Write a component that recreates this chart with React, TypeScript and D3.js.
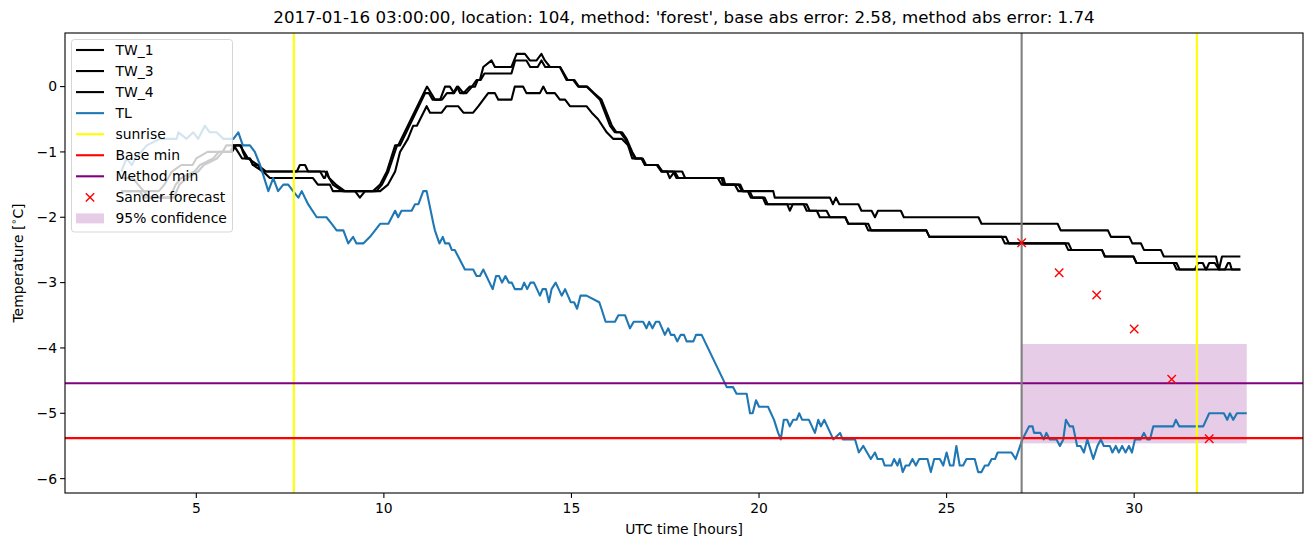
import React from "react";
import * as d3 from "d3";

// ---------------- data ----------------
const TITLE =
  "2017-01-16 03:00:00, location: 104, method: 'forest', base abs error: 2.58, method abs error: 1.74";

const TW_1: [number, number][] = [
  [3.0,-1.6],[3.5,-1.6],[3.6,-1.7],[4.3,-1.7],[4.45,-1.5],[4.6,-1.4],[4.95,-1.3],[5.1,-1.2],[5.45,-1.1],[5.6,-1.0],[5.9,-1.0],[6.0,-0.9],[6.11,-1.0],[6.22,-1.1],[6.43,-1.1],[6.51,-1.2],[6.78,-1.3],[6.96,-1.4],[8.11,-1.4],[8.24,-1.5],[8.56,-1.5],[8.64,-1.6],[9.71,-1.6],[9.9,-1.5],[10.08,-1.3],[10.3,-0.9],[10.38,-0.9],[11.15,0.0],[11.36,-0.2],[11.5,-0.2],[11.63,0.0],[11.76,0.0],[11.87,-0.1],[11.98,0.0],[12.12,-0.1],[12.29,0.0],[12.43,0.0],[12.5,0.1],[12.56,0.1],[12.65,0.3],[12.87,0.4],[12.96,0.3],[13.4,0.3],[13.54,0.5],[13.76,0.5],[13.89,0.4],[14.07,0.4],[14.2,0.5],[14.29,0.4],[14.43,0.3],[14.69,0.3],[14.87,0.1],[15.05,0.1],[15.18,0.0],[15.4,0.0],[15.58,-0.1],[15.76,-0.2],[16.03,-0.6],[16.16,-0.7],[16.3,-0.7],[16.43,-0.8],[16.6,-1.0],[16.69,-1.1],[16.87,-1.1],[16.96,-1.2],[17.27,-1.2],[17.4,-1.3],[17.71,-1.3],[17.8,-1.4],[18.9,-1.4],[19.0,-1.5],[19.35,-1.5],[19.45,-1.6],[19.7,-1.6],[19.78,-1.7],[20.1,-1.7],[20.18,-1.8],[20.75,-1.8],[20.82,-1.9],[20.9,-1.8],[21.19,-1.8],[21.27,-1.9],[21.54,-1.9],[21.62,-2.0],[22.3,-2.0],[22.38,-2.1],[22.83,-2.1],[22.91,-2.2],[24.46,-2.2],[24.54,-2.3],[26.47,-2.3],[26.55,-2.4],[28.16,-2.4],[28.24,-2.5],[29.14,-2.5],[29.22,-2.6],[29.98,-2.6],[30.06,-2.7],[31.05,-2.7],[31.13,-2.8],[31.62,-2.8],[31.7,-2.7],[31.83,-2.7],[31.91,-2.8],[32.83,-2.8],
];

const TW_3: [number, number][] = [
  [3.0,-1.6],[3.6,-1.6],[3.75,-1.7],[4.4,-1.7],[4.55,-1.5],[4.75,-1.4],[5.05,-1.3],[5.2,-1.2],[5.55,-1.1],[5.7,-1.0],[5.95,-1.0],[6.05,-0.9],[6.16,-0.9],[6.27,-1.0],[6.38,-1.1],[6.64,-1.2],[6.86,-1.3],[8.3,-1.3],[8.4,-1.4],[8.43,-1.4],[8.48,-1.3],[8.54,-1.4],[8.72,-1.5],[8.96,-1.6],[9.23,-1.6],[9.36,-1.7],[9.5,-1.6],[9.8,-1.6],[9.95,-1.5],[10.12,-1.3],[10.35,-0.9],[10.43,-0.9],[11.1,-0.1],[11.2,-0.1],[11.3,-0.2],[11.55,-0.2],[11.68,-0.1],[11.85,-0.1],[11.95,0.0],[12.03,-0.1],[12.2,-0.1],[12.35,0.0],[12.47,0.1],[12.58,0.1],[12.68,0.2],[13.4,0.2],[13.5,0.4],[13.8,0.4],[13.9,0.3],[14.1,0.3],[14.2,0.4],[14.3,0.3],[14.7,0.3],[14.9,0.1],[15.08,0.1],[15.2,0.0],[15.42,0.0],[15.6,-0.1],[15.8,-0.2],[16.08,-0.6],[16.2,-0.7],[16.35,-0.7],[16.47,-0.8],[16.62,-1.0],[16.72,-1.1],[16.9,-1.1],[16.99,-1.2],[17.3,-1.2],[17.43,-1.3],[17.55,-1.3],[17.62,-1.4],[17.75,-1.3],[17.95,-1.3],[18.03,-1.4],[19.05,-1.4],[19.1,-1.5],[19.45,-1.5],[19.55,-1.6],[19.75,-1.6],[19.83,-1.7],[20.15,-1.7],[20.23,-1.8],[21.27,-1.8],[21.35,-1.9],[21.8,-1.9],[21.89,-2.0],[22.3,-2.0],[22.38,-2.1],[22.91,-2.1],[22.99,-2.2],[24.46,-2.2],[24.54,-2.3],[26.58,-2.3],[26.66,-2.4],[28.25,-2.4],[28.33,-2.5],[29.14,-2.5],[29.22,-2.6],[29.98,-2.6],[30.06,-2.7],[31.13,-2.7],[31.21,-2.8],[31.92,-2.8],[32.0,-2.7],[32.15,-2.7],[32.26,-2.8],[32.42,-2.8],[32.5,-2.7],[32.55,-2.7],[32.6,-2.8],[32.83,-2.8],
];

const TW_4: [number, number][] = [
  [3.0,-1.4],[3.3,-1.4],[3.45,-1.5],[3.6,-1.6],[4.0,-1.6],[4.15,-1.5],[4.35,-1.3],[4.6,-1.2],[4.9,-1.2],[5.0,-1.1],[5.3,-1.0],[5.7,-1.0],[5.8,-0.9],[6.2,-0.9],[6.24,-1.0],[6.32,-1.1],[6.43,-1.1],[6.51,-1.2],[6.64,-1.2],[6.75,-1.3],[7.68,-1.3],[7.76,-1.2],[7.9,-1.2],[7.98,-1.3],[8.43,-1.3],[8.54,-1.4],[8.64,-1.5],[8.9,-1.6],[9.9,-1.6],[10.11,-1.5],[10.3,-1.3],[10.43,-1.0],[10.64,-0.8],[10.78,-0.6],[10.88,-0.6],[11.14,-0.3],[11.23,-0.4],[11.54,-0.4],[11.67,-0.3],[11.98,-0.3],[12.12,-0.4],[12.38,-0.4],[12.52,-0.3],[12.65,-0.2],[12.78,-0.1],[12.96,-0.1],[13.05,-0.2],[13.4,-0.2],[13.49,0.0],[13.71,0.0],[13.8,-0.1],[14.16,-0.1],[14.25,0.0],[14.34,-0.1],[14.56,-0.1],[14.69,-0.2],[14.83,-0.2],[14.96,-0.3],[15.4,-0.3],[15.54,-0.4],[15.71,-0.5],[15.94,-0.7],[16.11,-0.8],[16.34,-0.8],[16.51,-0.9],[16.62,-1.1],[16.87,-1.1],[16.96,-1.2],[17.3,-1.2],[17.4,-1.3],[17.75,-1.3],[17.85,-1.4],[19.0,-1.4],[19.05,-1.5],[19.5,-1.5],[19.58,-1.6],[20.38,-1.6],[20.42,-1.7],[21.89,-1.7],[21.97,-1.8],[22.05,-1.7],[22.14,-1.8],[22.65,-1.8],[22.73,-1.9],[23.0,-1.9],[23.09,-2.0],[23.17,-1.9],[23.78,-1.9],[23.86,-2.0],[25.85,-2.0],[25.93,-2.1],[27.96,-2.1],[28.04,-2.2],[29.3,-2.2],[29.38,-2.3],[29.87,-2.3],[29.95,-2.4],[30.18,-2.4],[30.26,-2.5],[30.71,-2.5],[30.79,-2.6],[32.18,-2.6],[32.26,-2.8],[32.34,-2.6],[32.83,-2.6],
];

const TL: [number, number][] = [
  [3.0,-1.3],[3.14,-1.1],[3.28,-1.2],[3.37,-1.1],[3.68,-0.9],[4.03,-0.8],[4.48,-0.8],[4.52,-0.7],[4.74,-0.8],[4.92,-0.7],[5.05,-0.8],[5.23,-0.6],[5.36,-0.7],[5.54,-0.7],[5.72,-0.8],[5.99,-0.8],[6.12,-0.7],[6.24,-0.9],[6.43,-0.9],[6.56,-1.0],[6.7,-1.2],[6.92,-1.6],[7.05,-1.4],[7.18,-1.6],[7.32,-1.5],[7.45,-1.5],[7.58,-1.6],[7.72,-1.7],[7.81,-1.6],[7.98,-1.8],[8.21,-2.0],[8.47,-2.0],[8.61,-2.1],[8.74,-2.2],[8.92,-2.2],[9.05,-2.4],[9.18,-2.3],[9.27,-2.4],[9.45,-2.4],[9.63,-2.3],[9.9,-2.1],[10.12,-2.1],[10.3,-1.9],[10.38,-2.0],[10.47,-1.9],[10.74,-1.9],[10.83,-1.8],[10.92,-1.8],[11.05,-1.6],[11.14,-1.6],[11.32,-2.1],[11.36,-2.2],[11.48,-2.4],[11.57,-2.3],[11.63,-2.4],[11.74,-2.4],[11.81,-2.5],[11.89,-2.5],[12.16,-2.8],[12.38,-2.8],[12.47,-2.9],[12.56,-2.9],[12.65,-2.8],[12.9,-3.1],[12.99,-2.9],[13.07,-2.9],[13.15,-3.0],[13.24,-2.9],[13.33,-3.0],[13.41,-3.0],[13.49,-3.1],[13.67,-3.1],[13.74,-3.0],[13.82,-3.1],[13.91,-3.0],[14.0,-3.0],[14.16,-3.2],[14.23,-3.1],[14.32,-3.1],[14.4,-3.3],[14.47,-3.1],[14.58,-3.0],[14.74,-3.2],[14.83,-3.1],[14.98,-3.3],[15.07,-3.3],[15.15,-3.4],[15.24,-3.2],[15.4,-3.2],[15.74,-3.3],[15.8,-3.4],[15.91,-3.6],[16.16,-3.6],[16.25,-3.5],[16.43,-3.5],[16.56,-3.7],[16.66,-3.6],[16.91,-3.6],[17.0,-3.7],[17.07,-3.6],[17.16,-3.7],[17.25,-3.6],[17.34,-3.6],[17.49,-3.8],[17.58,-3.7],[17.65,-3.8],[17.74,-3.8],[17.82,-3.9],[17.91,-3.8],[18.0,-3.8],[18.07,-3.9],[18.25,-3.9],[18.32,-3.8],[18.47,-3.8],[19.14,-4.6],[19.31,-4.6],[19.4,-4.7],[19.67,-4.7],[19.76,-5.0],[19.83,-5.0],[19.92,-4.8],[20.0,-4.9],[20.24,-4.9],[20.4,-5.1],[20.51,-5.3],[20.58,-5.4],[20.66,-5.1],[20.75,-5.1],[20.82,-5.2],[20.91,-5.1],[21.0,-5.1],[21.07,-5.0],[21.15,-5.1],[21.33,-5.1],[21.49,-5.3],[21.58,-5.1],[21.65,-5.2],[21.74,-5.1],[21.98,-5.4],[22.16,-5.3],[22.23,-5.4],[22.56,-5.4],[22.66,-5.6],[22.78,-5.5],[22.98,-5.7],[23.09,-5.6],[23.16,-5.7],[23.29,-5.7],[23.35,-5.8],[23.53,-5.8],[23.6,-5.7],[23.69,-5.8],[23.75,-5.7],[23.83,-5.9],[23.91,-5.8],[24.0,-5.8],[24.09,-5.7],[24.18,-5.8],[24.27,-5.7],[24.49,-5.7],[24.58,-5.9],[24.67,-5.7],[24.82,-5.7],[24.91,-5.8],[25.0,-5.6],[25.09,-5.8],[25.18,-5.8],[25.26,-5.5],[25.35,-5.8],[25.44,-5.8],[25.53,-5.7],[25.75,-5.7],[25.84,-5.9],[25.93,-5.9],[26.02,-5.8],[26.11,-5.8],[26.2,-5.7],[26.29,-5.7],[26.36,-5.6],[26.73,-5.6],[26.84,-5.7],[27.02,-5.4],[27.2,-5.2],[27.29,-5.2],[27.33,-5.3],[27.5,-5.3],[27.59,-5.4],[27.66,-5.3],[27.75,-5.4],[27.93,-5.4],[28.02,-5.5],[28.11,-5.4],[28.18,-5.1],[28.28,-5.2],[28.37,-5.2],[28.48,-5.5],[28.57,-5.5],[28.66,-5.6],[28.75,-5.4],[28.91,-5.7],[29.02,-5.5],[29.11,-5.4],[29.19,-5.5],[29.35,-5.5],[29.42,-5.6],[29.51,-5.5],[29.59,-5.6],[29.68,-5.5],[29.77,-5.6],[29.86,-5.5],[29.94,-5.6],[30.02,-5.4],[30.17,-5.4],[30.26,-5.3],[30.35,-5.4],[30.42,-5.4],[30.51,-5.2],[31.04,-5.2],[31.11,-5.1],[31.2,-5.2],[31.84,-5.2],[32.0,-5.0],[32.39,-5.0],[32.48,-5.1],[32.55,-5.0],[32.64,-5.1],[32.74,-5.0],[33.0,-5.0],
];

const SUNRISE_HOURS = [7.6, 31.67];
const FORECAST_TIME = 27.0;
const BASE_MIN = -5.38;
const METHOD_MIN = -4.54;
const SANDER_HOURS = [27, 28, 29, 30, 31, 32];
const SANDER_TEMPS = [-2.39, -2.85, -3.19, -3.71, -4.48, -5.39];
const CONF_HOURS = [27.0, 33.0];
const CONF_LOW = -5.46;
const CONF_HIGH = -3.94;

const X_TICKS = [5, 10, 15, 20, 25, 30];
const Y_TICKS = [-6, -5, -4, -3, -2, -1, 0];

const LEGEND_LABELS = ["TW_1", "TW_3", "TW_4", "TL", "sunrise", "Base min", "Method min", "Sander forecast", "95% confidence"];

// ---------------- layout ----------------
const W = 1313;
const H = 547;
const L = 65, R = 1303, T = 33, B = 493;
const FONT = "DejaVu Sans, sans-serif";
const FS = 13.9;

function padded(lo: number, hi: number): [number, number] {
  const p = (hi - lo) * 0.05;
  return [lo - p, hi + p];
}

export default function App() {
  const allX = [...TW_1, ...TW_3, ...TW_4, ...TL].map((d) => d[0]).concat(CONF_HOURS, SANDER_HOURS);
  const allY = [...TW_1, ...TW_3, ...TW_4, ...TL].map((d) => d[1]).concat([CONF_LOW, CONF_HIGH], SANDER_TEMPS);
  const x = d3.scaleLinear().domain(padded(d3.min(allX)!, d3.max(allX)!)).range([L, R]);
  const y = d3.scaleLinear().domain(padded(d3.min(allY)!, d3.max(allY)!)).range([B, T]);

  const line = d3
    .line<[number, number]>()
    .x((d) => x(d[0]))
    .y((d) => y(d[1]));

  const series = [
    { data: TW_1, color: "#000000" },
    { data: TW_3, color: "#000000" },
    { data: TW_4, color: "#000000" },
    { data: TL, color: "#1f77b4" },
  ];

  const legendX = 71.5, legendY = 39.5, legendW = 161, legendH = 192.5;
  const rowY = (i: number) => 50 + i * 21.05;

  return (
    <div style={{ position: "absolute", left: 0, top: 0 }}>
      <svg width={W} height={H} style={{ display: "block", background: "#fff" }} fontFamily={FONT}>
        <defs>
          <clipPath id="plot">
            <rect x={L} y={T} width={R - L} height={B - T} />
          </clipPath>
        </defs>
        <rect x={0} y={0} width={W} height={H} fill="#fff" />
        <g clipPath="url(#plot)">
          {/* confidence band */}
          <rect
            x={x(CONF_HOURS[0])}
            y={y(CONF_HIGH)}
            width={x(CONF_HOURS[1]) - x(CONF_HOURS[0])}
            height={y(CONF_LOW) - y(CONF_HIGH)}
            fill="#800080"
            fillOpacity={0.2}
          />
          {series.map((s, i) => (
            <path key={i} d={line(s.data)!} fill="none" stroke={s.color} strokeWidth={2.1} strokeLinejoin="round" />
          ))}
          {SUNRISE_HOURS.map((h, i) => (
            <line key={i} x1={x(h)} x2={x(h)} y1={T} y2={B} stroke="#ffff00" strokeWidth={2.1} />
          ))}
          <line x1={L} x2={R} y1={y(BASE_MIN)} y2={y(BASE_MIN)} stroke="#ff0000" strokeWidth={2.1} />
          <line x1={L} x2={R} y1={y(METHOD_MIN)} y2={y(METHOD_MIN)} stroke="#800080" strokeWidth={2.1} />
          <line x1={x(FORECAST_TIME)} x2={x(FORECAST_TIME)} y1={T} y2={B} stroke="#808080" strokeWidth={2.1} />
          {SANDER_HOURS.map((h, i) => {
            const cx = x(h), cy = y(SANDER_TEMPS[i]);
            const r = 4.2;
            return (
              <path
                key={i}
                d={`M${cx - r},${cy - r}L${cx + r},${cy + r}M${cx - r},${cy + r}L${cx + r},${cy - r}`}
                stroke="#ff0000"
                strokeWidth={1.4}
              />
            );
          })}
        </g>

        {/* axes frame */}
        <rect x={L} y={T} width={R - L} height={B - T} fill="none" stroke="#000" strokeWidth={1.1} />

        {/* x ticks */}
        {X_TICKS.map((t) => (
          <g key={t} transform={`translate(${x(t)},${B})`}>
            <line y1={0} y2={4.9} stroke="#000" strokeWidth={1.1} />
            <text y={19.5} textAnchor="middle" fontSize={FS} fill="#000">
              {t}
            </text>
          </g>
        ))}
        {/* y ticks */}
        {Y_TICKS.map((t) => (
          <g key={t} transform={`translate(${L},${y(t)})`}>
            <line x1={0} x2={-4.9} stroke="#000" strokeWidth={1.1} />
            <text x={-8} dy="0.35em" textAnchor="end" fontSize={FS} fill="#000">
              {t < 0 ? `\u2212${Math.abs(t)}` : `${t}`}
            </text>
          </g>
        ))}

        {/* labels */}
        <text x={(L + R) / 2} y={534} textAnchor="middle" fontSize={FS} fill="#000">
          UTC time [hours]
        </text>
        <text transform={`translate(23,${(T + B) / 2}) rotate(-90)`} textAnchor="middle" fontSize={FS} fill="#000">
          Temperature [<tspan fontSize={FS * 0.7} dy={-6}>{"\u2218"}</tspan>
          <tspan dy={6}>C]</tspan>
        </text>
        <text x={(L + R) / 2} y={23} textAnchor="middle" fontSize={FS * 1.2} fill="#000">
          {TITLE}
        </text>

        {/* legend */}
        <g>
          <rect
            x={legendX}
            y={legendY}
            width={legendW}
            height={legendH}
            rx={3}
            fill="#fff"
            fillOpacity={0.8}
            stroke="#cccccc"
            strokeOpacity={0.8}
            strokeWidth={1}
          />
          {LEGEND_LABELS.map((lab, i) => {
            const cy = rowY(i);
            const colors = ["#000", "#000", "#000", "#1f77b4", "#ffff00", "#ff0000", "#800080"];
            let handle: React.ReactNode = null;
            if (i < 7) {
              handle = <line x1={76} x2={104} y1={cy} y2={cy} stroke={colors[i]} strokeWidth={2.1} />;
            } else if (i === 7) {
              const cx = 90, r = 4.2;
              handle = (
                <path
                  d={`M${cx - r},${cy - r}L${cx + r},${cy + r}M${cx - r},${cy + r}L${cx + r},${cy - r}`}
                  stroke="#ff0000"
                  strokeWidth={1.4}
                />
              );
            } else {
              handle = <rect x={76} y={cy - 5} width={28} height={10} fill="#800080" fillOpacity={0.2} />;
            }
            return (
              <g key={lab}>
                {handle}
                <text x={115.5} y={cy} dy="0.35em" fontSize={FS} fill="#000">
                  {lab}
                </text>
              </g>
            );
          })}
        </g>
      </svg>
    </div>
  );
}
